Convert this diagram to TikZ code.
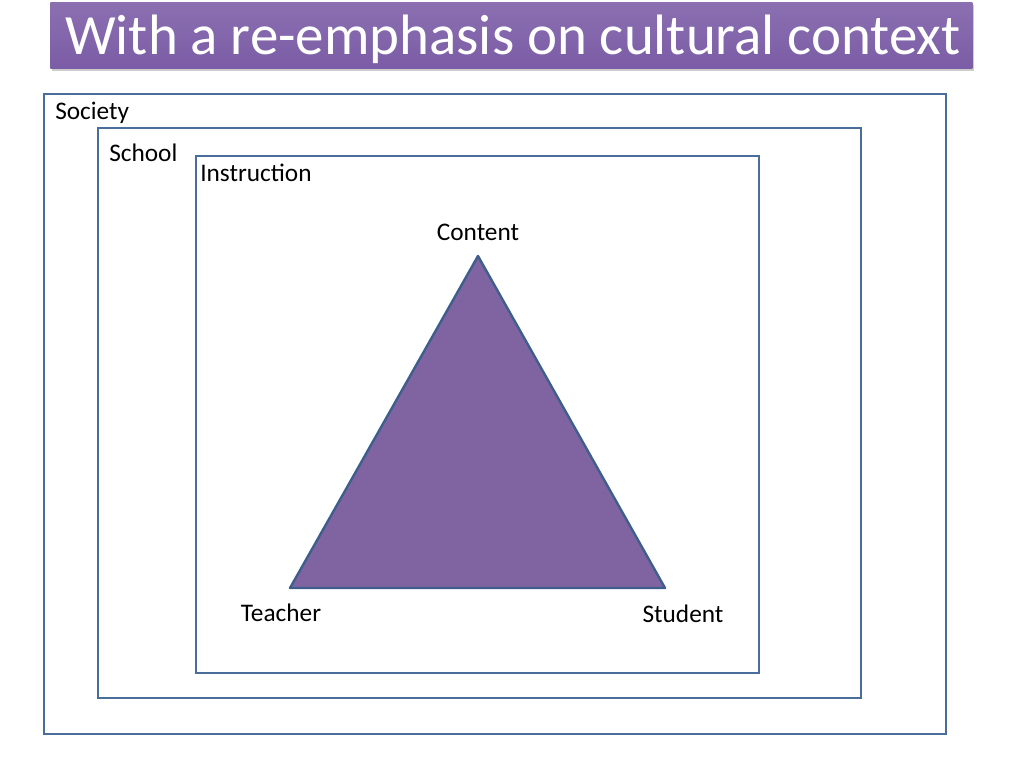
\documentclass[tikz,border=0pt]{standalone}
\usepackage{fontspec}
\setmainfont{Carlito}
\usepackage{tikz}
\usetikzlibrary{shadows,positioning}
\definecolor{framecol}{HTML}{4A6E9C}
\definecolor{titlecol}{HTML}{7B5CA6}
\definecolor{trifill}{HTML}{8064A2}
\definecolor{triedge}{HTML}{3E5F8C}
\tikzset{
    ctxbox/.style={draw=framecol, line width=0.6mm},
    lbl/.style={font=\fontsize{18}{21}\selectfont, inner sep=0pt}
}

\begin{document}
\begin{tikzpicture}[x=0.25mm, y=-0.25mm]
    \useasboundingbox (0,0) rectangle (1024,768);

    % Title bar
    \node[top color=titlecol!88!white, bottom color=titlecol,
          drop shadow={shadow xshift=0.4mm, shadow yshift=-0.6mm, opacity=0.4},
          minimum width=922*0.25mm, minimum height=66*0.25mm, inner sep=0pt,
          anchor=north west] (titlebar) at (50,2) {};
    \node[text=white, inner sep=0pt, anchor=base,
          font=\fontsize{40.5}{44}\selectfont] (title) at (513,54)
          {With a re-emphasis on cultural context};

    % Nested context boxes
    \draw[ctxbox] (44,94) rectangle (946,734);
    \draw[ctxbox] (98,128) rectangle (861,698);
    \draw[ctxbox] (196,156) rectangle (759,673);

    % Box labels
    \node[lbl, anchor=west] (society) at (55,113) {Society};
    \node[lbl, anchor=west] (school) at (109,153) {School};
    \node[lbl, anchor=west] (instr) at (200,173) {Instruction};

    % Triangle
    \coordinate (content) at (478,256);
    \coordinate (teacher) at (290,588);
    \coordinate (student) at (665,588);
    \draw[fill=trifill, draw=triedge, line width=0.6mm, line join=round]
        (content) -- (teacher) -- (student) -- cycle;

    % Corner labels
    \node[lbl] (contentlbl) at (478,232) {Content};
    \node[lbl] (teacherlbl) at (281,613) {Teacher};
    \node[lbl] (studentlbl) at (683,614) {Student};
\end{tikzpicture}
\end{document}
